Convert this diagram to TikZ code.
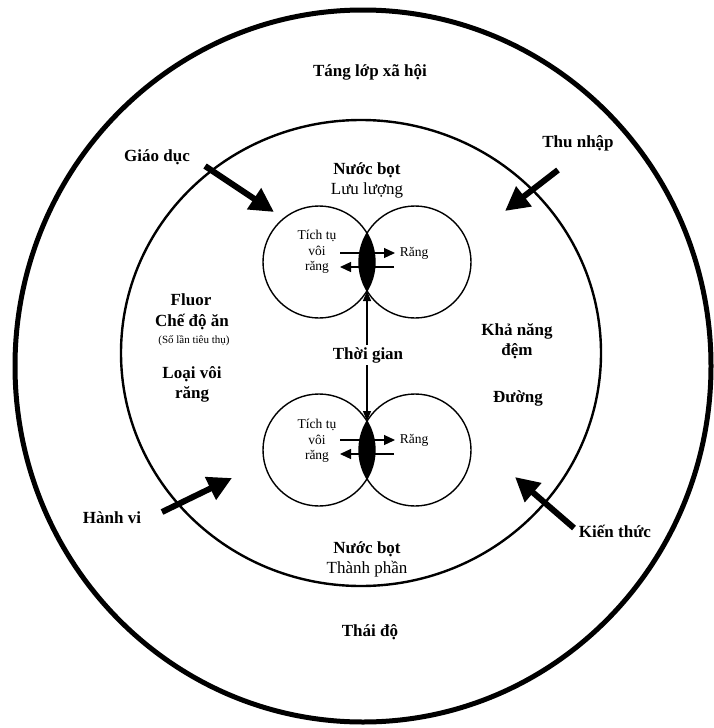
\documentclass[tikz,border=0pt]{standalone}
\usepackage{fontspec}
\setmainfont{Liberation Serif}
\usetikzlibrary{arrows.meta}
\begin{document}
\begin{tikzpicture}[x=1pt,y=-1pt,
  big/.style={font=\bfseries\fontsize{17}{20}\selectfont, align=center, inner sep=1pt},
  sub/.style={font=\fontsize{17}{20}\selectfont, align=center, inner sep=1pt},
  small/.style={font=\fontsize{13.5}{15.5}\selectfont, align=center, inner sep=1pt},
  tiny/.style={font=\fontsize{11}{13}\selectfont, align=center, inner sep=1pt},
  fat/.style={line width=6pt, -{Triangle[length=24pt,width=24pt]}},
  thin/.style={line width=1.2pt, -{Triangle[length=11pt,width=10pt]}},
  venn/.style={line width=1.4pt}]
\useasboundingbox (0,0) rectangle (713,728);
\fill[white] (0,0) rectangle (713,728);
% outer and inner rings
\draw[line width=5pt] (363,366) ellipse [x radius=348pt, y radius=356pt];
\draw[line width=2.4pt] (361,353) ellipse [x radius=240pt, y radius=233pt];
% top Venn
\coordinate (tl) at (319,262);
\coordinate (tr) at (415,262);
\begin{scope}
  \clip (tl) circle [radius=56pt];
  \fill (tr) circle [radius=56pt];
\end{scope}
\draw[venn] (tl) circle [radius=56pt] (tr) circle [radius=56pt];
% bottom Venn
\coordinate (bl) at (319,450);
\coordinate (br) at (415,450);
\begin{scope}
  \clip (bl) circle [radius=56pt];
  \fill (br) circle [radius=56pt];
\end{scope}
\draw[venn] (bl) circle [radius=56pt] (br) circle [radius=56pt];
% Venn inner arrows
\coordinate (ta1) at (340,253); \coordinate (ta2) at (395,253);
\coordinate (tb1) at (394,267); \coordinate (tb2) at (340,267);
\coordinate (ba1) at (340,440); \coordinate (ba2) at (395,440);
\coordinate (bb1) at (394,454); \coordinate (bb2) at (340,454);
\draw[thin] (ta1) -- (ta2);
\draw[thin] (tb1) -- (tb2);
\draw[thin] (ba1) -- (ba2);
\draw[thin] (bb1) -- (bb2);
\node[small] (tt) at (317,252) {Tích tụ\\vôi\\răng};
\node[small] (tr1) at (414,253) {Răng};
\node[small] (bt) at (317,441) {Tích tụ\\vôi\\răng};
\node[small] (br1) at (414,440) {Răng};
% time arrow
\coordinate (lensT) at (367,291);
\coordinate (lensB) at (367,421);
\draw[line width=1.2pt, {Triangle[length=10pt,width=8pt]}-{Triangle[length=10pt,width=8pt]}] (lensT) -- (lensB);
\node[big, fill=white, inner sep=2pt] (time) at (368,355) {Thời gian};
% labels
\node[big] (tang) at (370,72) {Táng lớp xã hội};
\node[big] (thai) at (370,632) {Thái độ};
\node[big] (nb1) at (367,170) {Nước bọt};
\node[sub] (ll) at (367,190) {Lưu lượng};
\node[big] (nb2) at (367,549) {Nước bọt};
\node[sub] (tp) at (367,569) {Thành phần};
\node[big] (fl) at (191,300) {Fluor};
\node[big] (cd) at (192,322) {Chế độ ăn};
\node[tiny] (sl) at (194,341) {(Số lần tiêu thụ)};
\node[big] (lv) at (192,384) {Loại vôi\\răng};
\node[big] (kn) at (517,341) {Khả năng\\đệm};
\node[big] (du) at (518,398) {Đường};
\node[big] (gd) at (157,157) {Giáo dục};
\node[big] (tn) at (578,143) {Thu nhập};
\node[big] (hv) at (112,518) {Hành vi};
\node[big] (kt) at (615,531) {Kiến thức};
% thick arrows
\coordinate (gd1) at (205,166); \coordinate (gd2) at (274,212);
\coordinate (tn1) at (558,170); \coordinate (tn2) at (505,211);
\coordinate (hv1) at (162,512); \coordinate (hv2) at (232,478);
\coordinate (kt1) at (574,528); \coordinate (kt2) at (515,477);
\draw[fat] (gd1) -- (gd2);
\draw[fat] (tn1) -- (tn2);
\draw[fat] (hv1) -- (hv2);
\draw[fat] (kt1) -- (kt2);
\end{tikzpicture}
\end{document}
